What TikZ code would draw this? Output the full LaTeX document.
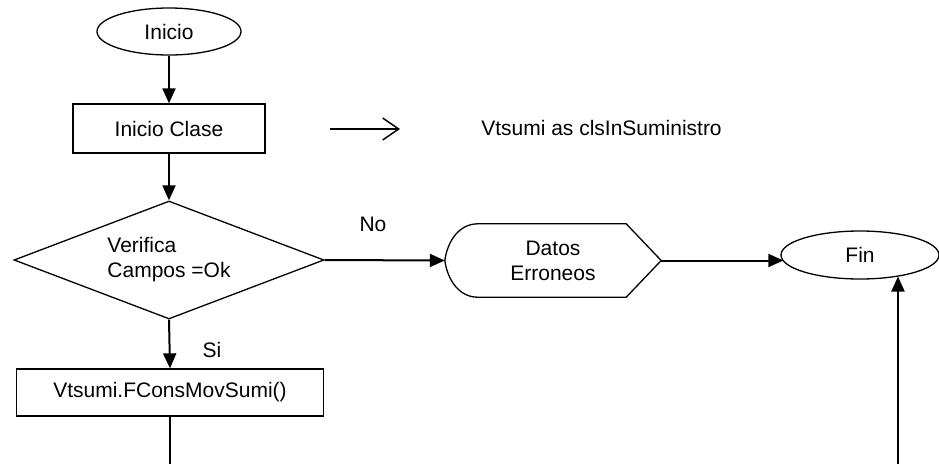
\documentclass[tikz,border=0pt]{standalone}
\usepackage{fontspec}
\setmainfont{Liberation Sans}
\usetikzlibrary{arrows.meta}
\usetikzlibrary{shapes.geometric}

\begin{document}
\begin{tikzpicture}[x=1pt,y=-1pt,
  every node/.style={font=\fontsize{21}{25}\selectfont},
  caja/.style={draw,line width=1.3pt,rectangle,inner sep=0pt},
  term/.style={draw,line width=1.3pt,ellipse,inner sep=0pt},
  flecha/.style={line width=2pt,-{Triangle[length=15pt,width=13pt]}}]
\useasboundingbox (0,0) rectangle (939,464);
\node[term,minimum width=144pt,minimum height=47pt] (ini) at (169,31.5) {Inicio};
\node[caja,minimum width=192pt,minimum height=49pt] (cls) at (169,128.5) {Inicio Clase};
\coordinate (fa) at (330,129);
\coordinate (fb) at (400,129);
\node (vts) at (601.5,128) {Vtsumi as clsInSuministro};
\node[draw,line width=1.3pt,diamond,aspect=2.6,minimum width=310pt,minimum height=118pt,
  inner sep=0pt,align=left] (ver) at (169,260) {Verifica\\Campos =Ok};
\node[minimum width=216pt,minimum height=73pt,inner sep=0pt,align=center] (dat) at (553,260.5) {Datos\\Erroneos};
\draw[line width=1.3pt] (dat.west) .. controls ([xshift=3pt,yshift=-16pt]dat.north west) and ([xshift=15pt]dat.north west) .. ([xshift=33pt]dat.north west)
  -- ([xshift=-35pt]dat.north east) -- (dat.east) -- ([xshift=-35pt]dat.south east)
  -- ([xshift=33pt]dat.south west) .. controls ([xshift=15pt]dat.south west) and ([xshift=3pt,yshift=16pt]dat.south west) .. (dat.west);
\node[term,minimum width=158pt,minimum height=48pt] (fin) at (860,255) {Fin};
\node[caja,minimum width=307pt,minimum height=47pt] (sum) at (170,392.5) {Vtsumi.FConsMovSumi()};
\node (no) at (373,224) {No};
\node (si) at (212,350) {Si};
\coordinate (s1) at (170,464);
\coordinate (f1) at (898,464);
\draw[flecha] (ini) -- (cls);
\draw[flecha] (cls) -- (ver);
\draw[line width=1.5pt,-{Straight Barb[length=16pt,width=22pt]}] (fa) -- (fb);
\draw[flecha] (ver.east) -- (dat.west);
\draw[flecha] (dat.east) -- (dat.east -| fin.185);
\draw[flecha] (ver.south) -- (sum.north);
\draw[line width=2pt] (sum.south) -- (s1);
\draw[flecha] (f1) -- (f1 |- fin.-29);
\end{tikzpicture}
\end{document}
